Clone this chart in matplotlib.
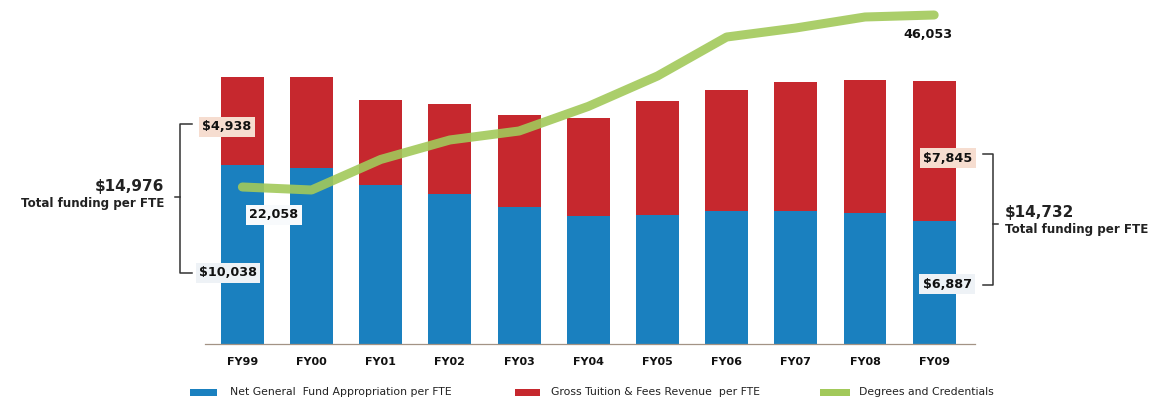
import matplotlib
matplotlib.use("Agg")
import matplotlib.pyplot as plt
from matplotlib.patches import Rectangle
from matplotlib.lines import Line2D

# ---- data ----
years = ["FY99", "FY00", "FY01", "FY02", "FY03", "FY04", "FY05", "FY06", "FY07", "FY08", "FY09"]
net_general_fund = [10038, 9870, 8920, 8410, 7660, 7200, 7250, 7480, 7480, 7350, 6887]
tuition_fees = [4938, 5100, 4750, 5030, 5160, 5490, 6360, 6750, 7210, 7480, 7845]
degrees = [22058, 21640, 25900, 28620, 29870, 33300, 37540, 42980, 44240, 45775, 46053]
legend_labels = ["Net General  Fund Appropriation per FTE",
                 "Gross Tuition & Fees Revenue  per FTE",
                 "Degrees and Credentials"]

BLUE = "#1a80bf"
RED = "#c6282e"
GREEN = "#a2c95a"

W, H = 1170, 401
fig = plt.figure(figsize=(W / 100, H / 100), dpi=100)
fig.patch.set_facecolor("white")


def fx(px):
    return px / W


def fy(py):
    return 1 - py / H


ax = fig.add_axes([fx(205), fy(344), (975 - 205) / W, (344 - 10) / H])
x = list(range(len(years)))
ax.bar(x, net_general_fund, width=0.62, color=BLUE, zorder=2)
ax.bar(x, tuition_fees, width=0.62, bottom=net_general_fund, color=RED, zorder=2)
ax.set_xlim(-0.54, 10.59)
ax.set_ylim(0, 18733)
ax.set_xticks(x)
ax.set_xticklabels(years, fontsize=8, fontweight="bold", color="#111111")
ax.tick_params(axis="x", length=0, pad=9.5)
ax.set_yticks([])
for s in ["left", "right", "top"]:
    ax.spines[s].set_visible(False)
ax.spines["bottom"].set_color("#a39385")
ax.spines["bottom"].set_linewidth(0.9)
ax.patch.set_alpha(0)

ax2 = ax.twinx()
ax2.plot(x, degrees, color=GREEN, lw=6.5, alpha=0.9, solid_capstyle="round",
         solid_joinstyle="round", zorder=3, clip_on=False)
ax2.set_ylim(155, 46750)
ax2.set_yticks([])
for s in ["left", "right", "top", "bottom"]:
    ax2.spines[s].set_visible(False)

# ---- value labels ----
lab_kw = dict(fontsize=9.2, fontweight="bold", color="#111111", ha="center", va="center")
peach = dict(boxstyle="square,pad=0.25", fc="#f6ddd0", ec="none")
pale = dict(boxstyle="square,pad=0.25", fc="#eef2f6", ec="none")
white = dict(boxstyle="square,pad=0.25", fc="#f8fafc", ec="none")

total0 = net_general_fund[0] + tuition_fees[0]
total9 = net_general_fund[-1] + tuition_fees[-1]

fig.text(fx(227), fy(127), f"${tuition_fees[0]:,}", bbox=peach, **lab_kw)
fig.text(fx(228), fy(273), f"${net_general_fund[0]:,}", bbox=pale, **lab_kw)
fig.text(fx(274), fy(215), f"{degrees[0]:,}", bbox=white, **lab_kw)
fig.text(fx(948), fy(158), f"${tuition_fees[-1]:,}", bbox=peach, **lab_kw)
fig.text(fx(947), fy(284), f"${net_general_fund[-1]:,}", bbox=pale, **lab_kw)
fig.text(fx(928), fy(35), f"{degrees[-1]:,}", **lab_kw)

# ---- brackets ----
bc = "#333333"
def line(xs, ys):
    fig.add_artist(Line2D([fx(v) for v in xs], [fy(v) for v in ys], color=bc, lw=1.1))

# left
line([192, 180, 180, 192], [124, 124, 273, 273])
line([175, 180], [197, 197])
fig.text(fx(164), fy(186), f"${total0:,}", fontsize=11, fontweight="bold",
         color="#222222", ha="right", va="center")
fig.text(fx(164), fy(204), "Total funding per FTE", fontsize=8.6, fontweight="bold",
         color="#222222", ha="right", va="center")
# right
line([983, 993, 993, 983], [154, 154, 285, 285])
line([993, 998], [224, 224])
fig.text(fx(1005), fy(213), f"${total9:,}", fontsize=11, fontweight="bold",
         color="#222222", ha="left", va="center")
fig.text(fx(1005), fy(230), "Total funding per FTE", fontsize=8.6, fontweight="bold",
         color="#222222", ha="left", va="center")

# ---- legend ----
for (x0, x1), col, lab, tx in zip([(190, 217), (515, 540), (820, 850)],
                                  [BLUE, RED, GREEN], legend_labels, [230, 551, 859]):
    fig.add_artist(Rectangle((fx(x0), fy(396)), fx(x1 - x0), 7 / H,
                             transform=fig.transFigure, color=col, lw=0))
    fig.text(fx(tx), fy(392), lab, fontsize=7.8, color="#222222", ha="left", va="center")

fig.savefig("out.png", dpi=100, facecolor="white")
